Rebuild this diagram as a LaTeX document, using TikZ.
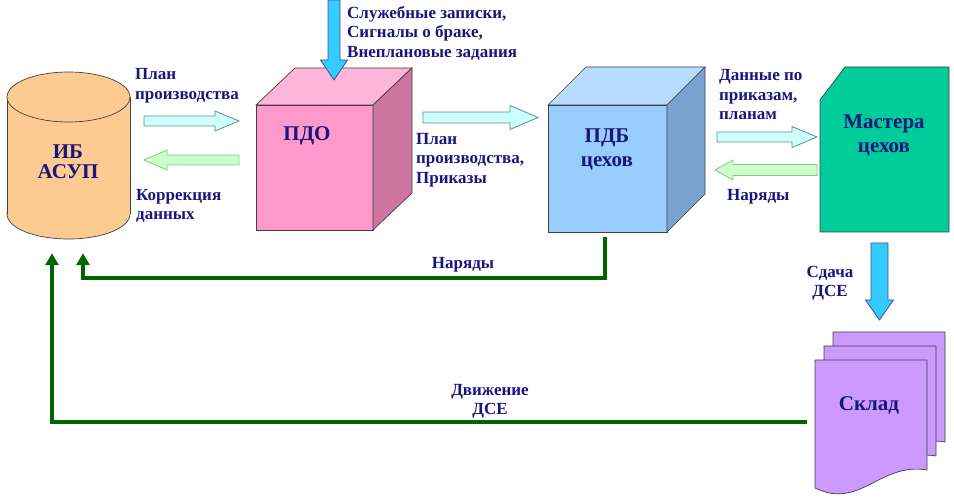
\documentclass[tikz,border=0pt]{standalone}
\usepackage{fontspec}
\setmainfont{Liberation Serif}
\usetikzlibrary{arrows.meta,calc}
\definecolor{txt}{RGB}{22,22,125}
\definecolor{dgreen}{RGB}{0,100,0}
\definecolor{cylfill}{RGB}{252,203,146}
\definecolor{pdofront}{RGB}{255,153,204}
\definecolor{pdotop}{RGB}{255,180,218}
\definecolor{pdoside}{RGB}{206,118,160}
\definecolor{pdbfront}{RGB}{153,204,255}
\definecolor{pdbtop}{RGB}{183,220,255}
\definecolor{pdbside}{RGB}{122,163,209}
\definecolor{masfill}{RGB}{0,204,153}
\definecolor{skfill}{RGB}{204,153,255}
\definecolor{lcyan}{RGB}{204,255,255}
\definecolor{lgreen}{RGB}{204,255,204}
\definecolor{bluearr}{RGB}{51,204,255}
\tikzset{
  lbl/.style={font=\bfseries\fontsize{17}{19.5}\selectfont, text=txt, align=left, inner sep=0pt},
  lblc/.style={lbl, align=center},
  big/.style={font=\bfseries\fontsize{21}{24}\selectfont, text=txt, align=center, inner sep=0pt},
  edge/.style={draw=black!75, line width=0.7pt},
  fatcyan/.style={fill=lcyan, draw=black!50!teal!60, line width=0.8pt},
  fatgreen/.style={fill=lgreen, draw=black!40!green!50, line width=0.8pt},
  fatblue/.style={fill=bluearr, draw=black!60!blue!70, line width=0.8pt},
  gline/.style={draw=dgreen, line width=3.5pt, -{Triangle[width=13pt,length=12pt]}},
  holder/.style={inner sep=0pt, draw=none}
}
\begin{document}
\begin{tikzpicture}[x=1pt,y=-1pt]
\useasboundingbox (0,0) rectangle (954,502);

% ---- cylinder ИБ АСУП
\filldraw[edge, fill=cylfill] (68.5,214) ellipse [x radius=61.5, y radius=25];
\fill[cylfill] (7,97) rectangle (130,214);
\draw[edge] (7,97) -- (7,214) (130,97) -- (130,214);
\filldraw[edge, fill=cylfill] (68.5,97) ellipse [x radius=61.5, y radius=25];
\node[holder, minimum width=123pt, minimum height=167pt] (asup) at (68.5,155.5) {};
\node[big, font=\bfseries\fontsize{21}{20}\selectfont] (asuptxt) at (68,162) {ИБ\\АСУП};

% ---- cube ПДО
\filldraw[edge, fill=pdofront] (256,105) rectangle (373,230);
\filldraw[edge, fill=pdotop] (256,105) -- (295,68) -- (412,68) -- (373,105) -- cycle;
\filldraw[edge, fill=pdoside] (373,105) -- (412,68) -- (412,193) -- (373,230) -- cycle;
\node[holder, minimum width=117pt, minimum height=125pt] (pdo) at (314.5,167.5) {};
\node[big] (pdotxt) at (307,136) {ПДО};

% ---- cube ПДБ
\filldraw[edge, fill=pdbfront] (548,105) rectangle (667,232);
\filldraw[edge, fill=pdbtop] (548,105) -- (586,67) -- (705,67) -- (667,105) -- cycle;
\filldraw[edge, fill=pdbside] (667,105) -- (705,67) -- (705,194) -- (667,232) -- cycle;
\node[holder, minimum width=119pt, minimum height=127pt] (pdb) at (607.5,168.5) {};
\node[big] (pdbtxt) at (607,149) {ПДБ\\цехов};

% ---- Мастера цехов
\filldraw[edge, fill=masfill] (845,67) -- (949,67) -- (949,232) -- (820,232) -- (820,100) -- cycle;
\node[holder, minimum width=129pt, minimum height=165pt] (mas) at (884.5,149.5) {};
\node[big] (mastxt) at (884,135) {Мастера\\цехов};

% ---- Склад (multi-document)
\foreach \s in {18,9,0}{
  \begin{scope}[shift={(\s,-\s*14/9)}]
    \filldraw[edge, fill=skfill] (815,360) -- (927,360) -- (927,470)
      .. controls (880,462) and (860,510) .. (815,488) -- cycle;
  \end{scope}
}
\node[holder, minimum width=112pt, minimum height=124pt] (sklad) at (871,422) {};
\node[big] (skladtxt) at (869,405) {Склад};

% ---- fat arrows
\filldraw[fatcyan] (144,116)--(215,116)--(215,111)--(239,121)--(215,131)--(215,126)--(144,126)--cycle;
\filldraw[fatgreen] (239,155)--(167,155)--(167,150)--(144,160)--(167,170)--(167,165)--(239,165)--cycle;
\filldraw[fatcyan] (423,112)--(510,112)--(510,105.5)--(538,117.5)--(510,129.5)--(510,123)--(423,123)--cycle;
\filldraw[fatcyan] (717,132)--(792,132)--(792,126.5)--(817,137)--(792,147.5)--(792,142)--(717,142)--cycle;
\filldraw[fatgreen] (817,164.5)--(733,164.5)--(733,160)--(715,170)--(733,180)--(733,175.5)--(817,175.5)--cycle;
\filldraw[fatblue] (328,0)--(340,0)--(340,60)--(347.5,60)--(334,80)--(320.5,60)--(328,60)--cycle;
\filldraw[fatblue] (871,243)--(888,243)--(888,300)--(893.5,300)--(879.5,320)--(865.5,300)--(871,300)--cycle;

% ---- green connectors
\coordinate (in1) at ($(asup.south)+(-16.5,14)$);
\coordinate (in2) at ($(asup.south)+(14.5,14)$);
\coordinate (pdbout) at ($(pdb.south)+(-2.5,5)$);
\coordinate (skout) at ($(sklad.west)+(-8,0)$);
\draw[gline] (pdbout) -- ++(0,41) -| (in2);
\draw[gline] (skout) -| (in1);

% ---- labels
\node[lbl, anchor=west] (l1) at (135,85.5) {План\\производства};
\node[lbl, anchor=west] (l2) at (136,206) {Коррекция\\данных};
\node[lbl, anchor=west] (l3) at (347,33) {Служебные записки,\\Сигналы о браке,\\Внеплановые задания};
\node[lbl, anchor=west] (l4) at (416,160) {План\\производства,\\Приказы};
\node[lbl, anchor=west] (l5) at (719,95) {Данные по\\приказам,\\планам};
\node[lbl, anchor=west] (l6) at (727,197) {Наряды};
\node[lblc] (l7) at (463,265) {Наряды};
\node[lblc] (l8) at (490,401) {Движение\\ДСЕ};
\node[lblc] (l9) at (830,283) {Сдача\\ДСЕ};
\end{tikzpicture}
\end{document}
